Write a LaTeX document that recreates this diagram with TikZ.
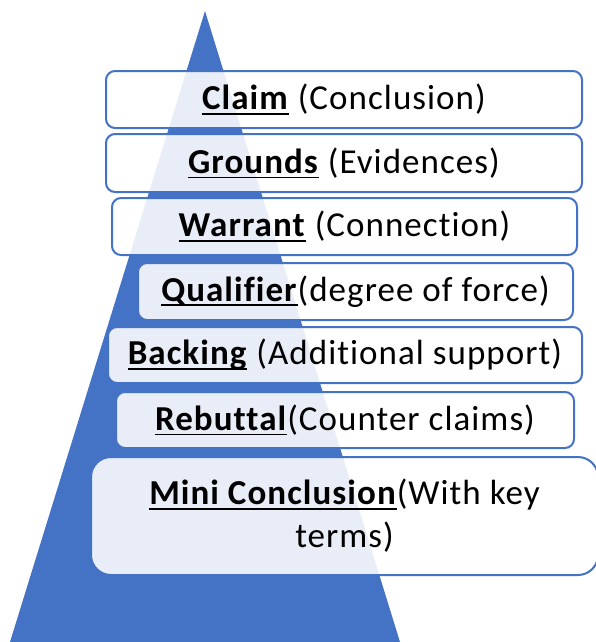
\documentclass[tikz,border=0pt]{standalone}
\usepackage{fontspec}
\setmainfont{Carlito}[LetterSpace=3, Ligatures=NoCommon]
\newsavebox\myulbox
\newcommand{\myul}[1]{\sbox\myulbox{#1}\rlap{\rule[-5pt]{\wd\myulbox}{1.8pt}}\usebox\myulbox}
\definecolor{ofblue}{HTML}{4472C4}
\begin{document}
\begin{tikzpicture}[x=1pt,y=-1pt,
  box/.style={draw=ofblue, line width=2pt, rounded corners=9pt, fill=white,
    fill opacity=0.88, text opacity=1, text=black, inner sep=0pt,
    font=\fontsize{35}{43}\selectfont},
  bigbox/.style={box, rounded corners=20pt, align=center}]
\useasboundingbox (0,0) rectangle (595,642);
\fill[ofblue] (205,11) -- (400,642) -- (10,642) -- cycle;
\node[box, minimum width=476pt, minimum height=57pt] (claim) at (344,99.5)
  {\myul{\textbf{Claim}} (Conclusion)};
\node[box, minimum width=476pt, minimum height=58pt] (grounds) at (344,163)
  {\myul{\textbf{Grounds}} (Evidences)};
\node[box, minimum width=465pt, minimum height=57pt] (warrant) at (344.5,226.5)
  {\myul{\textbf{Warrant}} (Connection)};
\node[box, minimum width=435pt, minimum height=57pt] (qualifier) at (355.5,291.5)
  {\myul{\textbf{Qualifier}}(degree of force)};
\node[box, minimum width=474pt, minimum height=56pt] (backing) at (345,355)
  {\myul{\textbf{Backing}} (Additional support)};
\node[box, minimum width=458pt, minimum height=56pt] (rebuttal) at (345,420)
  {\myul{\textbf{Rebuttal}}(Counter claims)};
\node[bigbox, minimum width=507pt, minimum height=118pt] (mini) at (344.5,516)
  {\myul{\textbf{Mini Conclusion}}(With key\\terms)};
\end{tikzpicture}
\end{document}
